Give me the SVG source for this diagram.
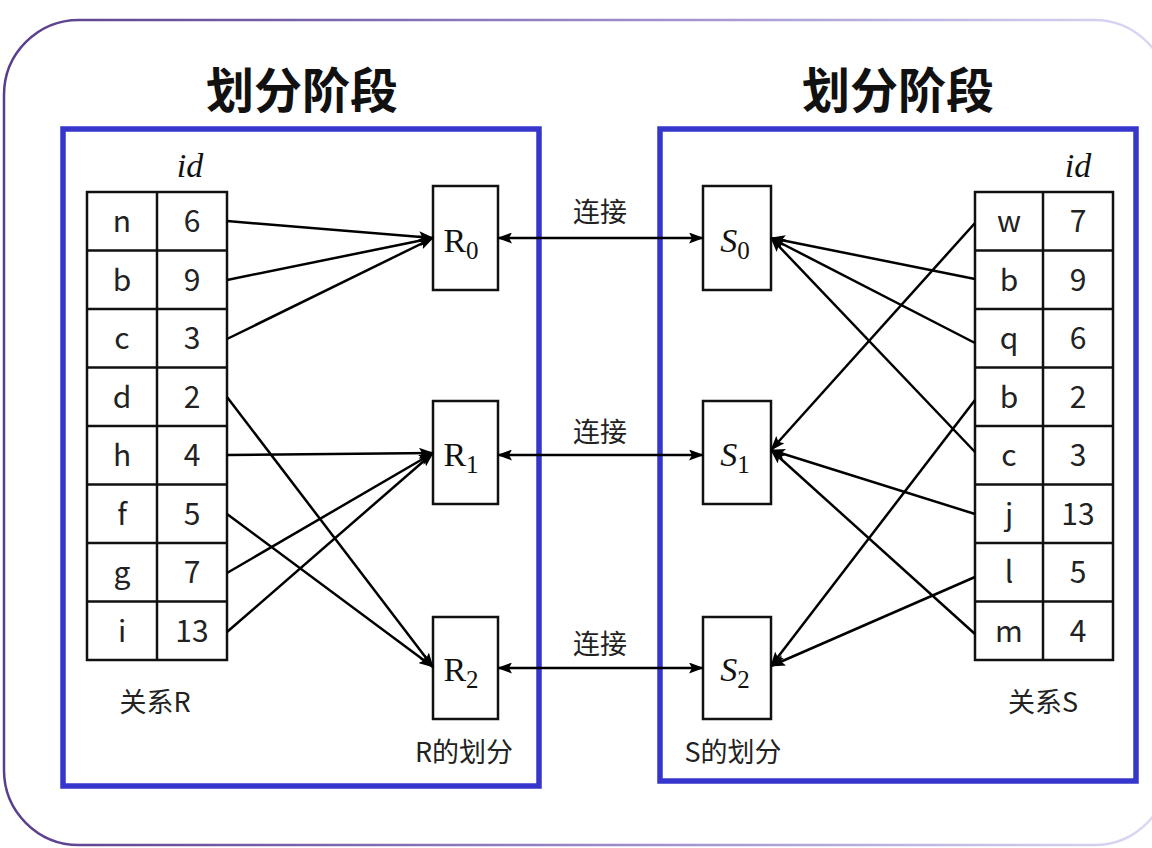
<svg xmlns="http://www.w3.org/2000/svg" width="1152" height="848" viewBox="0 0 1152 848">
<defs>
<linearGradient id="frameGrad" x1="0" y1="0" x2="1" y2="0">
<stop offset="0" stop-color="#583d8c"/>
<stop offset="0.5" stop-color="#9886c8"/>
<stop offset="1" stop-color="#dcdaf5"/>
</linearGradient>
<marker id="ah" viewBox="0 0 15 11" refX="14" refY="5.5" markerWidth="15" markerHeight="11" markerUnits="userSpaceOnUse" orient="auto-start-reverse">
<path d="M0,0 L15,5.5 L0,11 L3,5.5 z" fill="#000"/>
</marker>
</defs>
<style>
.frame{fill:none;stroke:url(#frameGrad);stroke-width:2.5}
.panel{fill:#fff;stroke:#3636cc;stroke-width:5.5}
.title{font-family:"Noto Sans CJK SC","Noto Sans",sans-serif;font-weight:700;font-size:48px;fill:#111;text-anchor:middle}
.cell{fill:#fff;stroke:#111;stroke-width:2.5}
.grid{stroke:#111;stroke-width:2.5;fill:none}
.ct{font-family:"Noto Sans CJK SC","Noto Sans",sans-serif;font-size:30px;fill:#222;text-anchor:middle}
.lbl{font-family:"Noto Sans CJK SC","Noto Sans",sans-serif;font-size:27px;fill:#222;text-anchor:middle}
.math{font-family:"Liberation Serif","DejaVu Serif",serif;font-size:34px;fill:#111;text-anchor:middle}
.box{fill:#fff;stroke:#111;stroke-width:2.5}
.conn{stroke:#000;stroke-width:2.5;fill:none;marker-end:url(#ah)}
.link{stroke:#000;stroke-width:2.5;fill:none;marker-end:url(#ah);marker-start:url(#ah)}
</style>
<rect width="1152" height="848" fill="#fff"/>
<rect class="frame" x="4" y="20" width="1165" height="825" rx="75" ry="75"/>

<g id="left-panel">
<rect class="panel" x="63" y="129" width="476" height="657"/>
<text class="title" x="302" y="108">划分阶段</text>
</g>
<g id="right-panel">
<rect class="panel" x="660" y="129" width="476" height="652"/>
<text class="title" x="898" y="108">划分阶段</text>
</g>

<g id="relation-R">
<text class="math" x="190" y="177" font-style="italic">id</text>
<rect class="cell" x="87" y="192" width="140" height="468"/>
<path class="grid" d="M157,192 V660 M87,250.5 H227 M87,309 H227 M87,367.5 H227 M87,426 H227 M87,484.5 H227 M87,543 H227 M87,601.5 H227"/>
<g class="ct">
<text x="122" y="232">n</text><text x="192" y="232">6</text>
<text x="122" y="291">b</text><text x="192" y="291">9</text>
<text x="122" y="349">c</text><text x="192" y="349">3</text>
<text x="122" y="408">d</text><text x="192" y="408">2</text>
<text x="122" y="466">h</text><text x="192" y="466">4</text>
<text x="122" y="525">f</text><text x="192" y="525">5</text>
<text x="122" y="583">g</text><text x="192" y="583">7</text>
<text x="122" y="642">i</text><text x="192" y="642">13</text>
</g>
<text class="lbl" x="155" y="712">关系R</text>
</g>

<g id="relation-S">
<text class="math" x="1078" y="177" font-style="italic">id</text>
<rect class="cell" x="975" y="192" width="138" height="468"/>
<path class="grid" d="M1043,192 V660 M975,250.5 H1113 M975,309 H1113 M975,367.5 H1113 M975,426 H1113 M975,484.5 H1113 M975,543 H1113 M975,601.5 H1113"/>
<g class="ct">
<text x="1009" y="232">w</text><text x="1078" y="232">7</text>
<text x="1009" y="291">b</text><text x="1078" y="291">9</text>
<text x="1009" y="349">q</text><text x="1078" y="349">6</text>
<text x="1009" y="408">b</text><text x="1078" y="408">2</text>
<text x="1009" y="466">c</text><text x="1078" y="466">3</text>
<text x="1009" y="525">j</text><text x="1078" y="525">13</text>
<text x="1009" y="583">l</text><text x="1078" y="583">5</text>
<text x="1009" y="642">m</text><text x="1078" y="642">4</text>
</g>
<text class="lbl" x="1043" y="712">关系S</text>
</g>

<g id="R0"><rect class="box" x="433" y="186" width="65" height="104"/><text class="math" x="461" y="252">R<tspan font-size="25" dy="7">0</tspan></text></g>
<g id="R1"><rect class="box" x="433" y="401" width="65" height="103"/><text class="math" x="461" y="466">R<tspan font-size="25" dy="7">1</tspan></text></g>
<g id="R2"><rect class="box" x="433" y="617" width="65" height="102"/><text class="math" x="461" y="681">R<tspan font-size="25" dy="7">2</tspan></text></g>
<text class="lbl" x="464" y="762">R的划分</text>

<g id="S0"><rect class="box" x="703" y="186" width="68" height="104"/><text class="math" x="735" y="252"><tspan font-style="italic">S</tspan><tspan font-size="25" dy="7">0</tspan></text></g>
<g id="S1"><rect class="box" x="703" y="401" width="68" height="103"/><text class="math" x="735" y="466"><tspan font-style="italic">S</tspan><tspan font-size="25" dy="7">1</tspan></text></g>
<g id="S2"><rect class="box" x="703" y="617" width="68" height="102"/><text class="math" x="735" y="681"><tspan font-style="italic">S</tspan><tspan font-size="25" dy="7">2</tspan></text></g>
<text class="lbl" x="733" y="762">S的划分</text>

<g id="connectors">
<line class="conn" x1="227" y1="221" x2="433" y2="238"/>
<line class="conn" x1="227" y1="280" x2="433" y2="238"/>
<line class="conn" x1="227" y1="339" x2="433" y2="238"/>
<line class="conn" x1="227" y1="397" x2="433" y2="667"/>
<line class="conn" x1="227" y1="455" x2="433" y2="453"/>
<line class="conn" x1="227" y1="514" x2="433" y2="667"/>
<line class="conn" x1="227" y1="573" x2="433" y2="453"/>
<line class="conn" x1="227" y1="632" x2="433" y2="453"/>

<line class="conn" x1="975" y1="223" x2="771" y2="450"/>
<line class="conn" x1="975" y1="279" x2="771" y2="238"/>
<line class="conn" x1="975" y1="343" x2="771" y2="238"/>
<line class="conn" x1="975" y1="400" x2="771" y2="666"/>
<line class="conn" x1="975" y1="452" x2="771" y2="238"/>
<line class="conn" x1="975" y1="514" x2="771" y2="450"/>
<line class="conn" x1="975" y1="577" x2="771" y2="666"/>
<line class="conn" x1="975" y1="634" x2="771" y2="450"/>

<line class="link" x1="498" y1="238" x2="703" y2="238"/>
<line class="link" x1="498" y1="455" x2="703" y2="455"/>
<line class="link" x1="498" y1="668" x2="703" y2="668"/>
<text class="lbl" x="600" y="222">连接</text>
<text class="lbl" x="600" y="442">连接</text>
<text class="lbl" x="600" y="654">连接</text>
</g>
</svg>
